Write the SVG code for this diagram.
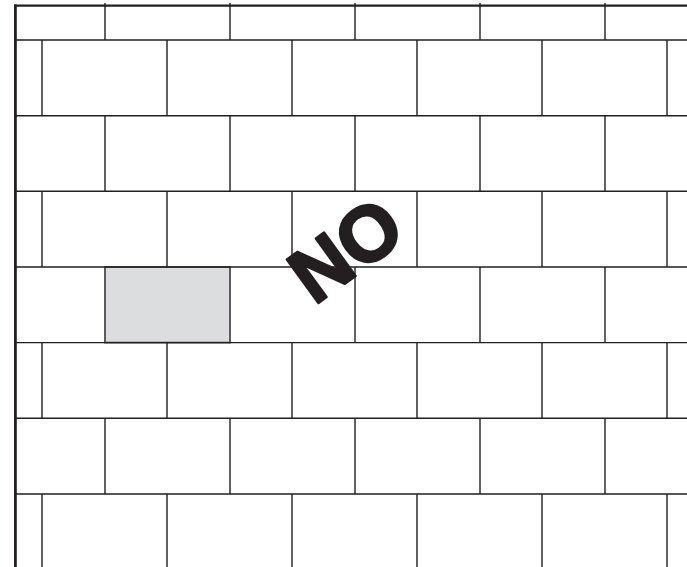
<svg xmlns="http://www.w3.org/2000/svg" width="687" height="567" viewBox="0 0 687 567">
<style>
.m{stroke:#231f20;stroke-width:1.4;fill:none}
.b{stroke:#231f20;fill:none}
.no{font-family:"Liberation Sans",Arial,sans-serif;font-weight:bold;font-size:78px;fill:#231f20;stroke:#231f20;stroke-width:2.6;stroke-linejoin:round}
</style>
<rect width="687" height="567" fill="#ffffff"/>
<g id="grey-brick">
<rect x="105" y="267" width="125" height="75.6" fill="#dcddde" stroke="#4d4d4f" stroke-width="1.8"/>
</g>
<g id="mortar">
<path class="m" d="M15 40H687M15 115.7H687M15 191.3H687M15 267H687M15 342.6H687M15 418.3H687M15 494H687"/>
<path class="m" d="M105 3V40M230 3V40M355 3V40M480 3V40M605 3V40"/>
<path class="m" d="M42 40V115.7M167 40V115.7M292 40V115.7M417 40V115.7M542 40V115.7M667 40V115.7"/>
<path class="m" d="M105 115.7V191.3M230 115.7V191.3M355 115.7V191.3M480 115.7V191.3M605 115.7V191.3"/>
<path class="m" d="M42 191.3V267M167 191.3V267M292 191.3V267M417 191.3V267M542 191.3V267M667 191.3V267"/>
<path class="m" d="M355 267V342.6M480 267V342.6M605 267V342.6"/>
<path class="m" d="M42 342.6V418.3M167 342.6V418.3M292 342.6V418.3M417 342.6V418.3M542 342.6V418.3M667 342.6V418.3"/>
<path class="m" d="M105 418.3V494M230 418.3V494M355 418.3V494M480 418.3V494M605 418.3V494"/>
<path class="m" d="M42 494V567M167 494V567M292 494V567M417 494V567M542 494V567M667 494V567"/>
</g>
<g id="border">
<path class="b" stroke-width="2.2" d="M14 5.6H687"/>
<path class="b" stroke-width="2.8" d="M15.4 4.5V567"/>
</g>
<g id="no-label">
<text class="no" text-anchor="middle" transform="translate(345 249) rotate(-36)" x="0" y="28">NO</text>
</g>
</svg>
